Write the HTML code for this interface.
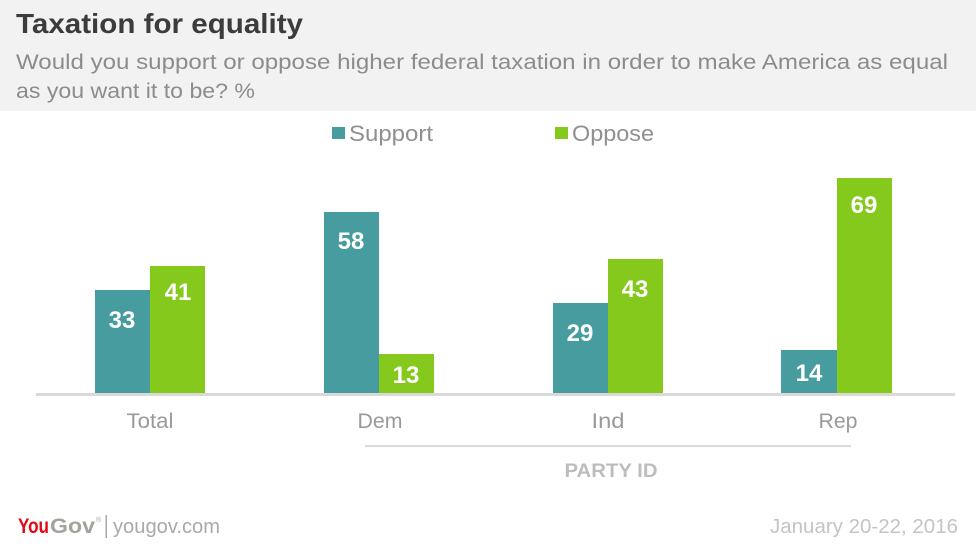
<!DOCTYPE html>
<html>
<head>
<meta charset="utf-8">
<style>
  html, body { margin: 0; padding: 0; background: #ffffff; }
  svg { display: block; }
  text { font-family: "Liberation Sans", sans-serif; }
</style>
</head>
<body>
<svg width="976" height="548" viewBox="0 0 976 548" xmlns="http://www.w3.org/2000/svg">
  <rect x="0" y="0" width="976" height="548" fill="#ffffff"/>
  <!-- header -->
  <rect x="0" y="0" width="976" height="111" fill="#f2f2f2"/>
  <text x="16" y="33" font-size="28" font-weight="bold" fill="#3c3c3c" textLength="287" lengthAdjust="spacingAndGlyphs">Taxation for equality</text>
  <text x="16" y="69" font-size="21" fill="#8c8c8c" textLength="932" lengthAdjust="spacingAndGlyphs">Would you support or oppose higher federal taxation in order to make America as equal</text>
  <text x="16" y="98" font-size="21" fill="#8c8c8c" textLength="239" lengthAdjust="spacingAndGlyphs">as you want it to be? %</text>

  <!-- legend -->
  <rect x="332" y="127" width="13" height="12" fill="#469c9e"/>
  <text x="349" y="141" font-size="22" fill="#8f8f8f" textLength="84" lengthAdjust="spacingAndGlyphs">Support</text>
  <rect x="555" y="127" width="13" height="12" fill="#84c91c"/>
  <text x="572" y="141" font-size="22" fill="#8f8f8f" textLength="82" lengthAdjust="spacingAndGlyphs">Oppose</text>

  <!-- bars -->
  <rect x="95" y="290" width="55" height="103" fill="#469c9e"/>
  <rect x="150" y="266" width="55" height="127" fill="#84c91c"/>
  <rect x="324" y="212" width="55" height="181" fill="#469c9e"/>
  <rect x="379" y="354" width="55" height="39" fill="#84c91c"/>
  <rect x="553" y="303" width="55" height="90" fill="#469c9e"/>
  <rect x="608" y="259" width="55" height="134" fill="#84c91c"/>
  <rect x="781" y="350" width="56" height="43" fill="#469c9e"/>
  <rect x="837" y="178" width="55" height="215" fill="#84c91c"/>

  <!-- value labels -->
  <g font-size="24" font-weight="bold" fill="#ffffff" text-anchor="middle">
    <text x="122" y="328">33</text>
    <text x="178" y="300">41</text>
    <text x="351" y="249">58</text>
    <text x="406" y="383">13</text>
    <text x="580" y="341">29</text>
    <text x="635" y="297">43</text>
    <text x="809" y="381">14</text>
    <text x="864" y="213">69</text>
  </g>

  <!-- axis -->
  <rect x="36" y="393" width="919" height="3" fill="#d9d9d9"/>

  <!-- category labels -->
  <g font-size="21" fill="#9a9a9a" text-anchor="middle">
    <text x="150" y="428" textLength="47" lengthAdjust="spacingAndGlyphs">Total</text>
    <text x="380" y="428" textLength="45" lengthAdjust="spacingAndGlyphs">Dem</text>
    <text x="608" y="428" textLength="33" lengthAdjust="spacingAndGlyphs">Ind</text>
    <text x="838" y="428" textLength="39" lengthAdjust="spacingAndGlyphs">Rep</text>
  </g>

  <!-- party id group -->
  <rect x="365" y="445" width="486" height="2" fill="#d9d9d9"/>
  <text x="611" y="477" font-size="19" font-weight="bold" fill="#bdbdbd" text-anchor="middle" textLength="93" lengthAdjust="spacingAndGlyphs">PARTY ID</text>

  <!-- footer -->
  <text x="18" y="533" font-size="21" font-weight="bold" fill="#e30613" textLength="31" lengthAdjust="spacingAndGlyphs">You</text>
  <text x="50" y="533" font-size="21" font-weight="bold" fill="#a3a39d" textLength="45" lengthAdjust="spacingAndGlyphs">Gov</text>
  <text x="96" y="522" font-size="7" fill="#a3a39d">®</text>
  <rect x="105.5" y="515" width="1.5" height="23" fill="#a8a8a8"/>
  <text x="113" y="533" font-size="20" fill="#a9a9a9" textLength="107" lengthAdjust="spacingAndGlyphs">yougov.com</text>
  <text x="770" y="533" font-size="20" fill="#c4c4c4" textLength="188" lengthAdjust="spacingAndGlyphs">January 20-22, 2016</text>
</svg>
</body>
</html>
